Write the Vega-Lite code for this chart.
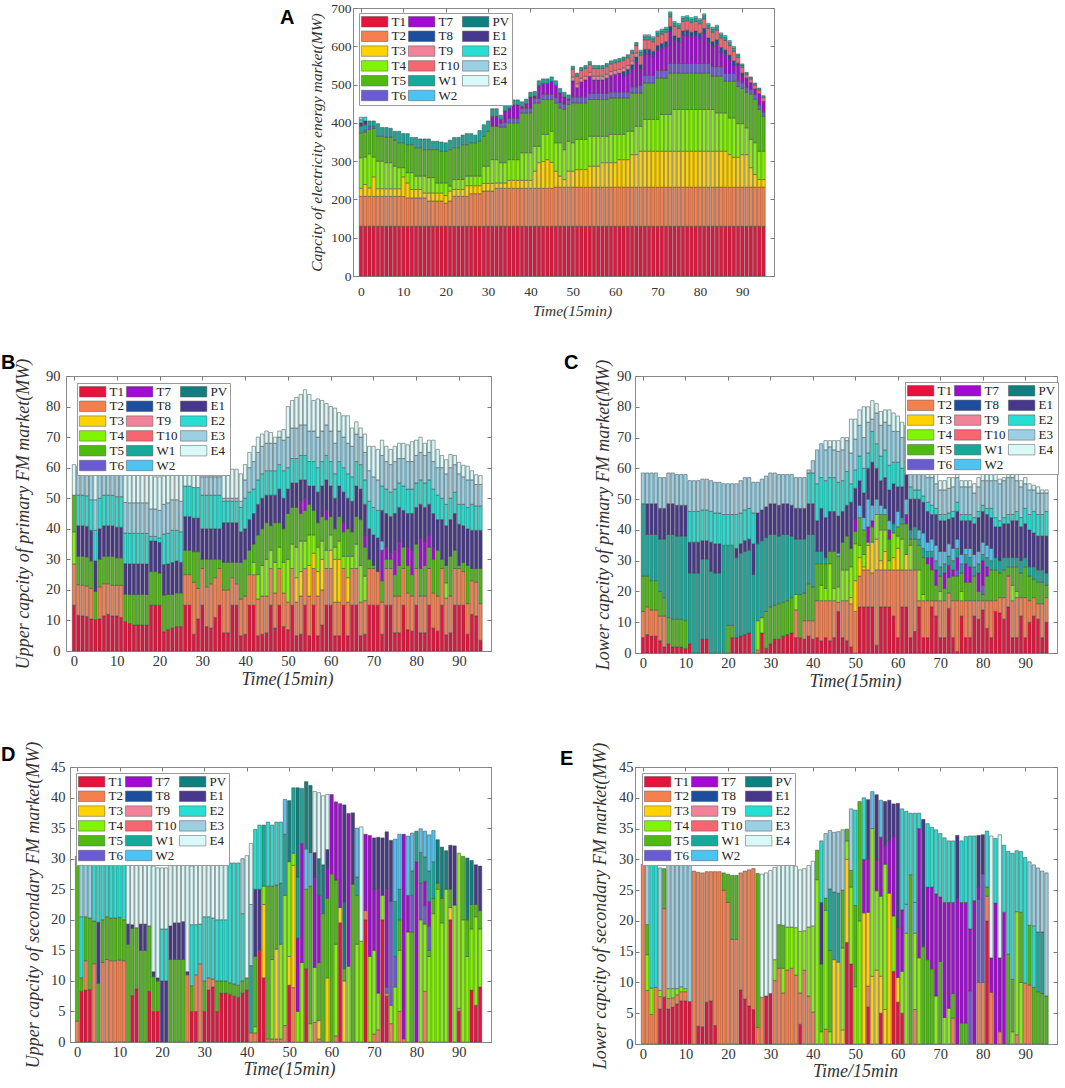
{
  "$schema": "https://vega.github.io/schema/vega-lite/v6.json",
  "background": "white",
  "padding": 0,
  "config": {
    "font": "Liberation Serif",
    "view": {"stroke": "#8a8a8a", "strokeWidth": 1},
    "axis": {"grid": false, "domainColor": "#8a8a8a", "tickColor": "#7a7a7a", "tickSize": -4, "labelFont": "Liberation Serif", "labelColor": "#333", "titleFont": "Liberation Serif", "titleFontStyle": "italic", "titleFontWeight": "normal", "titleColor": "#333", "labelFlush": false, "labelOverlap": false},
    "legend": {"columns": 3, "symbolType": "M-1.1,-0.95H3.7V0.95H-1.1Z", "symbolSize": 121, "symbolStrokeColor": "#555", "symbolStrokeWidth": 0.8, "symbolOpacity": 1, "labelFont": "Liberation Serif", "labelFontSize": 13, "labelColor": "#222", "rowPadding": 0.8, "columnPadding": 1, "labelOffset": 17.5, "padding": 2, "strokeColor": "#999", "fillColor": "white"},
    "bar": {"stroke": "#454545", "strokeWidth": 0.5},
    "title": {"font": "Liberation Sans", "fontSize": 20, "fontWeight": "bold", "anchor": "start", "frame": "group", "baseline": "alphabetic", "color": "#000", "offset": 0}
  },
  "datasets": {
    "series": [{"s":"T1","k":1},{"s":"T2","k":2},{"s":"T3","k":3},{"s":"T4","k":4},{"s":"T5","k":5},{"s":"T6","k":6},{"s":"T7","k":7},{"s":"T8","k":8},{"s":"T9","k":9},{"s":"T10","k":10},{"s":"W1","k":11},{"s":"W2","k":12},{"s":"PV","k":13},{"s":"E1","k":14},{"s":"E2","k":15},{"s":"E3","k":16},{"s":"E4","k":17}],
    "A": [
      {"t":0,"T1":130,"T2":78,"T3":21,"T4":80,"T5":65,"W1":18,"E1":8,"E2":8,"E3":7},
      {"t":1,"T1":130,"T2":78,"T3":31,"T4":72,"T5":65,"T6":5,"W1":14,"E1":10,"E2":10},
      {"t":2,"T1":130,"T2":78,"T3":22,"T4":89,"T5":64,"T6":8,"W1":14},
      {"t":3,"T1":130,"T2":78,"T3":51,"T4":52,"T5":74,"T6":6,"W1":14},
      {"t":4,"T1":130,"T2":78,"T3":20,"T4":72,"T5":65,"W1":33},
      {"t":5,"T1":130,"T2":78,"T3":20,"T4":72,"T5":65,"W1":23},
      {"t":6,"T1":130,"T2":78,"T3":20,"T4":68,"T5":67,"W1":25},
      {"t":7,"T1":130,"T2":78,"T3":20,"T4":68,"T5":67,"W1":23},
      {"t":8,"T1":130,"T2":78,"T3":20,"T4":59,"T5":68,"W1":23},
      {"t":9,"T1":130,"T2":78,"T3":20,"T4":55,"T5":65,"W1":30},
      {"t":10,"T1":130,"T2":78,"T3":51,"T4":24,"T5":65,"W1":24},
      {"t":11,"T1":130,"T2":74,"T3":39,"T4":27,"T5":73,"W1":29},
      {"t":12,"T1":130,"T2":74,"T3":22,"T4":44,"T5":73,"W1":19},
      {"t":13,"T1":130,"T2":74,"T3":22,"T4":35,"T5":74,"W1":27},
      {"t":14,"T1":130,"T2":74,"T3":22,"T4":35,"T5":74,"W1":23},
      {"t":15,"T1":130,"T2":74,"T3":13,"T4":44,"T5":69,"W1":28},
      {"t":16,"T1":130,"T2":66,"T3":21,"T4":40,"T5":73,"W1":28},
      {"t":17,"T1":130,"T2":66,"T3":21,"T4":40,"T5":73,"W1":22},
      {"t":18,"T1":130,"T2":66,"T3":21,"T4":26,"T5":87,"W1":22},
      {"t":19,"T1":130,"T2":66,"T3":21,"T4":26,"T5":83,"W1":24},
      {"t":20,"T1":130,"T2":60,"T3":20,"T4":33,"T5":83,"W1":22},
      {"t":21,"T1":130,"T2":66,"T3":26,"T4":13,"T5":95,"W1":25},
      {"t":22,"T1":130,"T2":78,"T3":18,"T4":26,"T5":83,"W1":27},
      {"t":23,"T1":130,"T2":78,"T3":18,"T4":26,"T5":83,"W1":27},
      {"t":24,"T1":130,"T2":78,"T3":18,"T4":26,"T5":91,"W1":25},
      {"t":25,"T1":130,"T2":78,"T3":28,"T4":25,"T5":82,"W1":29},
      {"t":26,"T1":130,"T2":85,"T3":21,"T4":25,"T5":87,"W1":24},
      {"t":27,"T1":130,"T2":85,"T3":21,"T4":25,"T5":87,"W1":20},
      {"t":28,"T1":130,"T2":85,"T3":21,"T4":25,"T5":91,"W1":28},
      {"t":29,"T1":130,"T2":92,"T3":20,"T4":45,"T5":78,"W1":30},
      {"t":30,"T1":130,"T2":92,"T3":20,"T4":45,"T5":91,"W1":27},
      {"t":31,"T1":130,"T2":92,"T3":20,"T4":62,"T5":87,"T7":26,"W1":20},
      {"t":32,"T1":130,"T2":99,"T3":14,"T4":61,"T5":87,"T7":26,"W1":20},
      {"t":33,"T1":130,"T2":99,"T3":14,"T4":53,"T5":93,"T6":10,"T7":10,"W1":11},
      {"t":34,"T1":130,"T2":99,"T3":14,"T4":53,"T5":93,"T6":12,"T7":30,"W1":14},
      {"t":35,"T1":130,"T2":99,"T3":21,"T4":54,"T5":96,"T6":12,"T7":26,"W1":12},
      {"t":36,"T1":130,"T2":99,"T3":21,"T4":54,"T5":96,"T6":12,"T7":35,"W1":13},
      {"t":37,"T1":130,"T2":99,"T3":21,"T4":54,"T5":96,"T6":12,"T7":35,"W1":13},
      {"t":38,"T1":130,"T2":99,"T3":21,"T4":72,"T5":104,"T6":12,"T7":5,"W1":12},
      {"t":39,"T1":130,"T2":99,"T3":21,"T4":72,"T5":104,"T6":12,"T7":12,"W1":12},
      {"t":40,"T1":130,"T2":99,"T3":21,"T4":72,"T5":104,"T6":12,"T7":30,"W1":12},
      {"t":41,"T1":130,"T2":99,"T3":45,"T4":65,"T5":113,"T6":12,"T7":6,"W1":12},
      {"t":42,"T1":130,"T2":99,"T3":67,"T4":43,"T5":113,"T6":12,"T7":34,"W1":12},
      {"t":43,"T1":130,"T2":99,"T3":70,"T4":71,"T5":91,"T6":14,"T7":28,"W1":12},
      {"t":44,"T1":130,"T2":99,"T3":75,"T4":66,"T5":91,"T6":14,"T7":28,"W1":12},
      {"t":45,"T1":130,"T2":99,"T3":68,"T4":81,"T5":83,"T6":14,"T7":33,"W1":12},
      {"t":46,"T1":130,"T2":102,"T3":42,"T4":74,"T5":104,"T6":14,"T7":32,"W1":12},
      {"t":47,"T1":130,"T2":102,"T3":29,"T4":87,"T5":91,"T6":14,"T7":25,"W1":12},
      {"t":48,"T1":130,"T2":102,"T3":20,"T4":78,"T5":105,"T6":14,"T7":19,"W1":12},
      {"t":49,"T1":130,"T2":102,"T3":42,"T4":78,"T5":96,"T6":12,"T7":3,"W1":10},
      {"t":50,"T1":130,"T2":102,"T3":42,"T4":74,"T5":104,"T6":16,"T7":42,"T9":10,"T10":20,"W1":8},
      {"t":51,"T1":130,"T2":102,"T3":46,"T4":79,"T5":95,"T6":16,"T7":24,"T9":10,"T10":20,"W1":8},
      {"t":52,"T1":130,"T2":102,"T3":46,"T4":79,"T5":95,"T6":16,"T7":39,"T9":10,"T10":20,"W1":8},
      {"t":53,"T1":130,"T2":102,"T3":46,"T4":79,"T5":95,"T6":16,"T7":44,"T9":10,"T10":20,"W1":8},
      {"t":54,"T1":130,"T2":102,"T3":55,"T4":78,"T5":96,"T6":16,"T7":45,"T9":10,"T10":20,"W1":8},
      {"t":55,"T1":130,"T2":102,"T3":55,"T4":78,"T5":96,"T6":16,"T7":35,"T9":10,"T10":20,"W1":8},
      {"t":56,"T1":130,"T2":102,"T3":55,"T4":78,"T5":96,"T6":16,"T7":35,"T9":10,"T10":20,"W1":8},
      {"t":57,"T1":130,"T2":102,"T3":64,"T4":69,"T5":96,"T6":16,"T7":35,"T9":10,"T10":20,"W1":8},
      {"t":58,"T1":130,"T2":102,"T3":64,"T4":69,"T5":96,"T6":16,"T7":40,"T9":10,"T10":20,"W1":8},
      {"t":59,"T1":130,"T2":102,"T3":64,"T4":74,"T5":95,"T6":16,"T7":43,"T9":10,"T10":20,"W1":8},
      {"t":60,"T1":130,"T2":102,"T3":64,"T4":74,"T5":95,"T6":16,"T7":46,"T9":10,"T10":20,"W1":8},
      {"t":61,"T1":130,"T2":102,"T3":72,"T4":66,"T5":95,"T6":16,"T7":49,"T9":10,"T10":20,"W1":8},
      {"t":62,"T1":130,"T2":102,"T3":72,"T4":66,"T5":95,"T6":16,"T7":41,"T8":12,"T9":10,"T10":20,"W1":8},
      {"t":63,"T1":130,"T2":102,"T3":72,"T4":74,"T5":87,"T6":16,"T7":47,"T8":12,"T9":10,"T10":20,"W1":8},
      {"t":64,"T1":130,"T2":102,"T3":85,"T4":61,"T5":100,"T6":16,"T7":46,"T8":12,"T9":10,"T10":20,"W1":8},
      {"t":65,"T1":130,"T2":102,"T3":85,"T4":74,"T5":87,"T6":16,"T7":66,"T8":12,"T9":10,"T10":20,"W1":8},
      {"t":66,"T1":130,"T2":102,"T3":94,"T4":65,"T5":87,"T6":20,"T7":42,"T8":12,"T10":25,"W1":8,"E2":5},
      {"t":67,"T1":130,"T2":102,"T3":94,"T4":83,"T5":95,"T6":20,"T7":56,"T8":12,"T10":25,"W1":8,"E2":5},
      {"t":68,"T1":130,"T2":102,"T3":94,"T4":83,"T5":95,"T6":20,"T7":56,"T8":12,"T10":25,"W1":8,"E2":5},
      {"t":69,"T1":130,"T2":102,"T3":94,"T4":83,"T5":95,"T6":20,"T7":51,"T8":12,"T10":25,"W1":8,"E2":5},
      {"t":70,"T1":130,"T2":102,"T3":94,"T4":83,"T5":108,"T6":20,"T7":53,"T8":12,"T10":25,"W1":8,"E2":5},
      {"t":71,"T1":130,"T2":102,"T3":94,"T4":96,"T5":95,"T6":20,"T7":58,"T8":12,"T10":25,"W1":8,"E2":5},
      {"t":72,"T1":130,"T2":102,"T3":94,"T4":96,"T5":95,"T6":20,"T7":63,"T8":12,"T10":25,"W1":8,"E2":5},
      {"t":73,"T1":130,"T2":102,"T3":94,"T4":96,"T5":108,"T6":25,"T7":85,"T8":12,"T10":25,"W1":8,"E2":5},
      {"t":74,"T1":130,"T2":102,"T3":94,"T4":109,"T5":95,"T6":25,"T7":60,"T8":12,"T10":25,"W1":8,"E2":5},
      {"t":75,"T1":130,"T2":102,"T3":94,"T4":109,"T5":95,"T6":25,"T7":55,"T8":12,"T10":25,"W1":8,"E2":5},
      {"t":76,"T1":130,"T2":102,"T3":94,"T4":109,"T5":95,"T6":25,"T7":73,"T8":12,"T10":25,"W1":8,"E2":5},
      {"t":77,"T1":130,"T2":102,"T3":94,"T4":109,"T5":95,"T6":25,"T7":75,"T8":12,"T10":25,"W1":8,"E2":5},
      {"t":78,"T1":130,"T2":102,"T3":94,"T4":109,"T5":95,"T6":25,"T7":70,"T8":12,"T10":25,"W1":8,"E2":5},
      {"t":79,"T1":130,"T2":102,"T3":94,"T4":109,"T5":95,"T6":25,"T7":73,"T8":12,"T10":25,"W1":8,"E2":5},
      {"t":80,"T1":130,"T2":102,"T3":94,"T4":109,"T5":95,"T6":25,"T7":67,"T8":12,"T10":25,"W1":8,"E2":5},
      {"t":81,"T1":130,"T2":102,"T3":94,"T4":109,"T5":95,"T6":25,"T7":80,"T8":12,"T10":25,"W1":8,"E2":5},
      {"t":82,"T1":130,"T2":102,"T3":94,"T4":109,"T5":95,"T6":25,"T7":55,"T8":12,"T10":25,"W1":8,"E2":5},
      {"t":83,"T1":130,"T2":102,"T3":94,"T4":109,"T5":87,"T6":25,"T7":53,"T8":12,"T10":25,"W1":8,"E2":5},
      {"t":84,"T1":130,"T2":102,"T3":94,"T4":100,"T5":96,"T6":25,"T7":58,"T8":12,"T10":25,"W1":8,"E2":5},
      {"t":85,"T1":130,"T2":102,"T3":94,"T4":100,"T5":96,"T6":25,"T7":38,"T8":12,"T10":25,"W1":8,"E2":5},
      {"t":86,"T1":130,"T2":102,"T3":94,"T4":100,"T5":83,"T6":20,"T7":49,"T8":12,"T10":25,"W1":8,"E2":5},
      {"t":87,"T1":130,"T2":102,"T3":85,"T4":96,"T5":96,"T6":20,"T7":36,"T8":12,"T10":25,"W1":8,"E2":5},
      {"t":88,"T1":130,"T2":102,"T3":78,"T4":103,"T5":96,"T6":20,"T7":21,"T8":12,"T10":25,"W1":8,"E2":5},
      {"t":89,"T1":130,"T2":102,"T3":78,"T4":88,"T5":97,"T6":15,"T7":41,"T8":5,"T10":15,"W1":6,"E2":3},
      {"t":90,"T1":130,"T2":102,"T3":85,"T4":81,"T5":92,"T6":15,"T7":20,"T8":5,"T10":15,"W1":6,"E2":3},
      {"t":91,"T1":130,"T2":102,"T3":85,"T4":70,"T5":93,"T6":12,"T7":25,"T10":10,"W1":5},
      {"t":92,"T1":130,"T2":102,"T3":51,"T4":74,"T5":118,"T6":12,"T7":18,"T10":10,"W1":5},
      {"t":93,"T1":130,"T2":102,"T3":33,"T4":83,"T5":114,"T6":12,"T7":15,"T10":10,"W1":5},
      {"t":94,"T1":130,"T2":102,"T3":20,"T4":74,"T5":109,"T6":12,"T7":29,"T10":10,"W1":5},
      {"t":95,"T1":130,"T2":102,"T3":20,"T4":74,"T5":91,"T6":12,"T7":27,"T10":10,"W1":5}
    ],
    "B": [
      {"t":0,"T1":15,"T2":13.5,"T4":10.5,"T5":12,"E4":10},
      {"t":1,"T1":11.7,"T2":10,"T5":9.3,"E1":10,"E2":10,"E3":8,"E4":1.5},
      {"t":2,"T1":11.5,"T2":10,"T5":9.5,"E1":10,"E2":10,"E3":8,"E4":1},
      {"t":3,"T1":11.3,"T2":10,"T5":9.5,"E1":10,"E2":10,"E3":8,"E4":1.2},
      {"t":4,"T1":10.5,"T2":10,"T5":9,"E1":10,"E2":10,"E3":8,"E4":2},
      {"t":5,"T1":10.3,"T5":9.2,"E1":10,"E2":10,"E3":10,"E4":10},
      {"t":6,"T1":10.5,"T2":10.5,"T5":9,"E1":10,"E2":10,"E3":8,"E4":1.5},
      {"t":7,"T1":11.5,"T2":10.5,"T5":9,"E1":10,"E2":10,"E3":8,"E4":1.5},
      {"t":8,"T1":12,"T2":10,"T5":9,"E1":10,"E2":10,"E3":8,"E4":1.5},
      {"t":9,"T1":11.5,"T2":10,"T5":9.5,"E1":10,"E2":10,"E3":8,"E4":1},
      {"t":10,"T1":11.5,"T2":10,"T5":9,"E1":10,"E2":10,"E3":8,"E4":1.5},
      {"t":11,"T1":11,"T2":10.5,"T5":9,"E1":10,"E2":10,"E3":8,"E4":1},
      {"t":12,"T1":9.6,"T5":9,"E1":10,"E2":10,"E3":10,"E4":10},
      {"t":13,"T1":9,"T5":9.5,"E1":10,"E2":10,"E3":10,"E4":9.5},
      {"t":14,"T1":8.5,"T5":10,"E1":10,"E2":10,"E3":10,"E4":9.5},
      {"t":15,"T1":8.5,"T5":10,"E1":10,"E2":10,"E3":10,"E4":10},
      {"t":16,"T1":8.5,"T5":10,"E1":10,"E2":10,"E3":10,"E4":10},
      {"t":17,"T1":8.5,"T5":10,"E1":10,"E2":10,"E3":10,"E4":9.5},
      {"t":18,"T1":15,"T5":11,"E1":10,"E2":1.5,"E3":9,"E4":11.5},
      {"t":19,"T1":15,"T5":11,"E1":10,"E2":1.5,"E3":9,"E4":10.5},
      {"t":20,"T1":15,"T5":10.5,"E1":10,"E2":1.5,"E3":9,"E4":11},
      {"t":21,"T1":6.3,"T5":12,"E1":10,"E2":10,"E3":9.7,"E4":9.3},
      {"t":22,"T1":7,"T5":11.5,"E1":10,"E2":10,"E3":10,"E4":9.5},
      {"t":23,"T1":7.5,"T5":11,"E1":10.5,"E2":10.5,"E3":10,"E4":9},
      {"t":24,"T1":8,"T5":11,"E1":10.5,"E2":10,"E3":10,"E4":9.5},
      {"t":25,"T1":8,"T5":11,"E1":10,"E2":10,"E3":10,"E4":10},
      {"t":26,"T1":15,"T2":10,"T5":8,"E1":11,"E2":10,"E4":3.5},
      {"t":27,"T1":15,"T2":10,"T5":8,"E1":11,"E2":10,"E4":3.5},
      {"t":28,"T1":5.5,"T2":17,"T5":10,"E1":11,"E2":10,"E4":4.5},
      {"t":29,"T1":10.5,"T2":10,"T5":12,"E1":11,"E2":10,"E4":5.5},
      {"t":30,"T1":15,"T2":12,"T5":3,"E1":10,"E2":11,"E3":6,"E4":3},
      {"t":31,"T1":8,"T2":13,"T5":9,"E1":10,"E2":11,"E3":6,"E4":3},
      {"t":32,"T1":7.5,"T2":14.5,"T5":8,"E1":10,"E2":11,"E3":6,"E4":3},
      {"t":33,"T1":11,"T2":13,"T5":6,"E1":10,"E2":11,"E3":6,"E4":3},
      {"t":34,"T1":15,"T2":12,"T5":3,"E1":10,"E2":11,"E3":6,"E4":3},
      {"t":35,"T1":6,"T2":14,"T5":9,"E1":13,"E2":7,"E3":1,"E4":10},
      {"t":36,"T1":6,"T2":14,"T5":9,"E1":13,"E2":7,"E3":1,"E4":9.5},
      {"t":37,"T1":15,"T2":9,"T5":5,"E1":13,"E2":7,"E3":1,"E4":9.5},
      {"t":38,"T1":15,"T2":7,"T5":7,"E1":13,"E2":7,"E3":1,"E4":9.5},
      {"t":39,"T1":5,"T2":12,"T5":12,"E1":10,"E2":8,"E3":2,"E4":9},
      {"t":40,"T1":5.5,"T2":12.5,"T5":12,"E1":10,"E2":10,"E3":6,"E4":5},
      {"t":41,"T1":15,"T2":10,"T5":8,"E1":10,"E2":9,"E3":8,"E4":5},
      {"t":42,"T1":15,"T2":10,"T4":4,"T5":6,"E1":10,"E2":8,"E3":9,"E4":5},
      {"t":43,"T1":5,"T2":12,"T4":8,"T5":13,"E1":10,"E2":8,"E3":9,"E4":5},
      {"t":44,"T1":5.5,"T2":12.5,"T4":10,"T5":12,"E1":10,"E2":8,"E3":9,"E4":4},
      {"t":45,"T1":6,"T2":12,"T4":12,"T5":12,"E1":9,"E2":8,"E3":9,"E4":4},
      {"t":46,"T1":15,"T2":12,"T4":6,"T5":8,"E1":10,"E2":8,"E3":9,"E4":3.5},
      {"t":47,"T1":7.5,"T2":11.5,"T4":10,"T5":13,"E1":9,"E2":8,"E3":9,"E4":2},
      {"t":48,"T1":15,"T2":12,"T4":7,"T5":8,"E1":11,"E2":8,"E3":9,"E4":2},
      {"t":49,"T1":8,"T2":11,"T4":10,"T5":11,"E1":10,"E2":9,"E3":10,"E4":3.5},
      {"t":50,"T1":7,"T2":9,"T4":14,"T5":15,"E1":8,"E2":7,"E3":10,"E4":10},
      {"t":51,"T1":15,"T2":12,"T4":8,"T5":12,"E1":8,"E2":8,"E3":10,"E4":9},
      {"t":52,"T1":5,"T2":11,"T3":8,"T4":10,"T5":13,"E1":8,"E2":8,"E3":10,"E4":10},
      {"t":53,"T1":5.5,"T2":12.5,"T3":8,"T4":10,"T5":9,"T7":4,"E1":7,"E2":8,"E3":10,"E4":10},
      {"t":54,"T1":15,"T2":12,"T4":9,"T5":10,"T7":4,"E1":6,"E2":8,"E3":10,"E4":11.5},
      {"t":55,"T1":5,"T2":13,"T3":10,"T4":10,"T5":10,"E1":6,"E2":8,"E3":10,"E4":12},
      {"t":56,"T1":15,"T2":12,"T3":5,"T4":6,"T5":8,"E1":8,"E2":8,"E3":10,"E4":10},
      {"t":57,"T1":5,"T2":13,"T3":8,"T4":8,"T5":8,"E1":10,"E2":8,"E3":10,"E4":12.5},
      {"t":58,"T1":8.5,"T2":11.5,"T3":10,"T4":6,"T5":8,"E1":10,"E2":8,"E3":10,"E4":10},
      {"t":59,"T1":15,"T2":12,"T4":6,"T5":10,"T7":3,"E1":10,"E2":8,"E3":10,"E4":7},
      {"t":60,"T1":15,"T2":12,"T3":6,"T4":5,"T5":6,"E1":10,"E2":8,"E3":10,"E4":8},
      {"t":61,"T1":5,"T2":11,"T3":14,"T4":4,"T5":6,"E1":10,"E2":8,"E3":10,"E4":11.5},
      {"t":62,"T1":5,"T2":11,"T3":14,"T4":6,"T5":8,"E1":10,"E2":8,"E3":10,"E4":6},
      {"t":63,"T1":15,"T2":12,"T4":4,"T5":8,"T7":3,"E1":10,"E2":8,"E3":10,"E4":7},
      {"t":64,"T1":5,"T2":11,"T3":8,"T4":7,"T5":9,"E1":10,"E2":8,"E3":10,"E4":9},
      {"t":65,"T1":15,"T2":12,"T4":4,"T5":8,"E1":10,"E2":8,"E3":10,"E4":6},
      {"t":66,"T1":15,"T2":12,"T4":8,"T5":9,"E1":10,"E2":8,"E3":9,"E4":4},
      {"t":67,"T1":5,"T2":11,"T4":12,"T5":15,"E1":10,"E2":8,"E3":9,"E4":3},
      {"t":68,"T1":5.5,"T2":11,"T4":8,"T5":9.5,"T7":4,"E1":10,"E2":8,"E3":9,"E4":6},
      {"t":69,"T1":15,"T2":12,"T5":3,"E1":10,"E2":9,"E3":10,"E4":8},
      {"t":70,"T1":15,"T2":12,"T5":1,"E1":10,"E2":9,"E3":10,"E4":10},
      {"t":71,"T1":15,"T2":11,"E1":11,"E2":9,"E3":10,"E4":10},
      {"t":72,"T1":5.5,"T2":10.5,"T5":7,"T7":10,"W2":3,"E1":10,"E2":8,"E3":10,"E4":5},
      {"t":73,"T1":15,"T2":12,"T5":3,"T7":4,"E1":11,"E2":8,"E3":9,"E4":5},
      {"t":74,"T1":15,"T2":12,"T5":3,"T7":2,"E1":12,"E2":8,"E3":9,"E4":5},
      {"t":75,"T1":6,"T2":12,"T5":7,"T7":8,"E1":12,"E2":8,"E3":9,"E4":5},
      {"t":76,"T1":6,"T2":12,"T5":10,"T7":8,"E1":11,"E2":8,"E3":8,"E4":5},
      {"t":77,"T1":15,"T2":12,"T5":7,"E1":12,"E2":8,"E3":9,"E4":5},
      {"t":78,"T1":7,"T2":12,"T5":9,"T7":6,"E1":11,"E2":8,"E3":9,"E4":5.5},
      {"t":79,"T1":6.5,"T2":11.5,"T5":7,"T7":8,"E1":12,"E2":8,"E3":9,"E4":6.5},
      {"t":80,"T1":15,"T2":12,"T5":8,"E1":12,"E2":8,"E3":9,"E4":5},
      {"t":81,"T1":6,"T2":12,"T5":9,"T7":10,"E1":11,"E2":8,"E3":9,"E4":5},
      {"t":82,"T1":6,"T2":12,"T5":10,"T7":8,"E1":11,"E2":8,"E3":9,"E4":4},
      {"t":83,"T1":15,"T2":12,"T5":7,"T7":4,"E1":10,"E2":8,"E3":9,"E4":4},
      {"t":84,"T1":7.5,"T2":11.5,"T5":11,"T7":4,"E1":11,"E2":8,"E3":9,"E4":7},
      {"t":85,"T1":6.5,"T2":11.5,"T5":15,"E1":10,"E2":8,"E3":9,"E4":6},
      {"t":86,"T1":15,"T2":12,"T5":3,"E1":13,"E2":7,"E3":10,"E4":4},
      {"t":87,"T1":5.3,"T2":12,"T4":5,"T5":5.7,"E1":13,"E2":7,"E3":10,"E4":4.6},
      {"t":88,"T1":6,"T2":12,"T5":13,"E1":12,"E2":7,"E3":10,"E4":4.3},
      {"t":89,"T1":15,"T2":12,"T5":6,"E1":12,"E2":7,"E3":9,"E4":3},
      {"t":90,"T1":15,"T2":12,"T5":1,"E1":13.5,"E2":6.5,"E3":10,"E4":3.8},
      {"t":91,"T1":15,"T2":11,"T5":3,"E1":12,"E2":7,"E3":9,"E4":3.8},
      {"t":92,"T1":5.5,"T2":10,"T5":12.5,"E1":12,"E2":7,"E3":9,"E4":4.5},
      {"t":93,"T1":12,"T2":11,"T5":4,"E1":12.5,"E2":8.5,"E3":8,"E4":3},
      {"t":94,"T1":11.5,"T2":11,"T5":4.5,"E1":12.5,"E2":8,"E3":7,"E4":3.2},
      {"t":95,"T1":3.5,"T2":12,"T5":11.5,"E1":12.5,"E2":8,"E3":7,"E4":2.9}
    ],
    "C": [
      {"t":0,"T1":5,"T2":8.5,"T5":11.5,"W1":23.5,"E3":10},
      {"t":1,"T1":6,"T2":9,"T5":10,"W1":13.5,"E1":10,"E3":10},
      {"t":2,"T1":5.5,"T2":8.5,"T5":9.5,"W1":15,"E1":10,"E3":10},
      {"t":3,"T1":5.5,"T2":8.5,"T5":9.5,"W1":15,"E1":10,"E3":10},
      {"t":4,"T1":4,"T2":8,"T5":8,"W1":17,"E1":10,"E3":10},
      {"t":5,"T1":2,"T2":10,"T5":6,"W1":19,"E1":10,"E3":10},
      {"t":6,"T1":3,"T5":8.5,"W1":27,"E1":10,"E3":10},
      {"t":7,"T1":2,"T5":9,"W1":27.5,"E1":10,"E3":10},
      {"t":8,"T1":2,"T5":9,"W1":27,"E1":10,"E3":10},
      {"t":9,"T1":2,"T5":9,"W1":27,"E1":10,"E3":10},
      {"t":10,"T1":1.5,"T5":9,"W1":27.5,"E1":10,"E3":10},
      {"t":11,"T1":3,"W1":23,"E1":10,"E2":10,"E3":10},
      {"t":12,"W1":26,"E1":10,"E2":10,"E3":10},
      {"t":13,"W1":26,"E1":10,"E2":10,"E3":10},
      {"t":14,"T1":4.5,"W1":26,"E1":6,"E2":10,"E3":10},
      {"t":15,"T1":4.5,"W1":26,"E1":6,"E2":10,"E3":10},
      {"t":16,"W1":26.5,"E1":9.5,"E2":10,"E3":10},
      {"t":17,"W1":26,"E1":9.5,"E2":10,"E3":10},
      {"t":18,"W1":26,"E1":9.5,"E2":10,"E3":10},
      {"t":19,"W1":35,"E2":10,"E3":10},
      {"t":20,"T5":9,"W1":26,"E2":10,"E3":10},
      {"t":21,"T1":5,"T5":4,"W1":26,"E2":10,"E3":10},
      {"t":22,"T1":5,"W1":26,"E1":3,"E2":11,"E3":10},
      {"t":23,"T1":5.5,"W1":27,"E1":3,"E2":10,"E3":10.5},
      {"t":24,"T1":6,"W1":27,"E1":3.5,"E2":10,"E3":10.5},
      {"t":25,"T1":6.5,"W1":27,"E1":3.5,"E2":10,"E3":10},
      {"t":26,"W1":25.5,"E1":10,"E2":10,"E3":10},
      {"t":27,"T2":1,"T4":9.5,"W1":25,"E1":10,"E3":10},
      {"t":28,"T1":6.5,"T4":5,"W1":25,"E1":10,"E3":10},
      {"t":29,"T1":1.5,"T5":12,"W1":24,"E1":10,"E3":10},
      {"t":30,"T1":3,"T5":12,"W1":23.5,"E1":10,"E3":10},
      {"t":31,"T1":4.5,"T5":11,"W1":23,"E1":10,"E3":10},
      {"t":32,"T1":4.5,"T5":11.5,"W1":22,"E1":10,"E3":10},
      {"t":33,"T1":5.5,"T5":11,"W1":22,"E1":10,"E3":9.5},
      {"t":34,"T1":6,"T5":11,"W1":21.5,"E1":10,"E3":9.5},
      {"t":35,"T1":6.5,"T5":11.5,"W1":20,"E1":10,"E3":10},
      {"t":36,"T1":5,"T2":9,"T4":5,"W1":18,"E1":10,"E3":10},
      {"t":37,"T1":5,"T5":14,"W1":18,"E1":10,"E3":10},
      {"t":38,"T1":4.5,"T2":6,"T5":9,"W1":17.5,"E1":10,"E3":10},
      {"t":39,"T1":5.5,"T2":5,"T5":12,"W1":16,"E1":10,"E2":10,"E3":1},
      {"t":40,"T1":4.5,"T2":6,"T5":11,"W1":17,"E1":10,"E2":10,"E3":4},
      {"t":41,"T1":5,"T2":12,"T5":12,"W1":4,"E1":10,"E2":12,"E3":11},
      {"t":42,"T1":4,"T2":13,"T4":5,"T5":7,"W1":4,"E1":14,"E2":10,"E3":11},
      {"t":43,"T1":5,"T2":12,"T4":4,"T5":8,"W1":2,"E1":13,"E2":12,"E3":10,"E4":3},
      {"t":44,"T1":4,"T2":13,"T4":12,"T5":4,"E1":13,"E2":11,"E3":10,"E4":2},
      {"t":45,"T1":5,"T2":12,"T4":4,"T5":12,"E1":13,"E2":11,"E3":9,"E4":3},
      {"t":46,"T1":13.5,"T2":3,"T4":5,"T5":10,"W2":1,"E1":12,"E2":11,"E3":10,"E4":3.5},
      {"t":47,"T1":5,"T2":12,"T4":10,"T5":9,"E1":10,"E2":10,"E3":10,"E4":4},
      {"t":48,"T1":4,"T2":13,"T4":10,"T5":11,"E1":10,"E2":11,"E3":10,"E4":1},
      {"t":49,"T1":2,"T2":14,"T3":2,"T4":10,"T5":6,"E1":15,"E2":6,"E3":10,"E4":11},
      {"t":50,"T2":13.5,"T3":10,"T4":12,"T5":4,"T7":4,"E1":10,"E2":6,"E3":10,"E4":6.5},
      {"t":51,"T1":15,"T2":10,"T3":6,"T4":4,"T5":9,"W2":4,"E1":8,"E2":8,"E3":10,"E4":5},
      {"t":52,"T1":15,"T2":12,"T3":1,"T4":4,"T5":8,"W2":4,"E1":8,"E2":8,"E3":10,"E4":10},
      {"t":53,"T1":15,"T2":12,"T3":8,"T4":1,"T7":5,"W2":9,"E1":10,"E2":5,"E3":10,"E4":5},
      {"t":54,"T1":15,"T2":11,"T3":10,"T5":5,"T7":2,"W2":5,"E1":14,"E2":10,"E3":4,"E4":6},
      {"t":55,"T1":2.5,"T2":24.5,"T3":10,"T4":8,"W2":5,"E1":10,"E2":8,"E3":10,"E4":3},
      {"t":56,"T1":15,"T2":12,"T3":3,"T4":10,"T5":5,"W2":3,"E1":8,"E2":8,"E3":10,"E4":4.5},
      {"t":57,"T1":15,"T2":12,"T3":6,"T4":7,"T5":5,"W2":2,"E1":10,"E2":9,"E3":9,"E4":4},
      {"t":58,"T1":15,"T2":12,"T4":3,"T5":7,"T7":3,"W2":3,"E1":10,"E2":8,"E3":13,"E4":5},
      {"t":59,"T1":12,"T2":15,"T3":4,"T4":8,"W1":3,"E1":13,"E2":7,"E3":10,"E4":6},
      {"t":60,"T1":5,"T2":22,"T3":7,"T4":4,"T5":3,"W2":5,"E1":8,"E2":8,"E3":10,"E4":5},
      {"t":61,"T1":15,"T2":12,"T4":10,"T5":5,"W1":2,"E1":10,"E2":6,"E3":10,"E4":5},
      {"t":62,"T1":15,"T2":12,"T3":5,"T5":10,"T7":3,"W2":5,"E1":8,"E2":4,"E3":8,"E4":4},
      {"t":63,"T1":5,"T2":22,"T4":8,"T5":2,"W1":3,"E1":10,"E2":4,"E3":10,"E4":6},
      {"t":64,"T1":7,"T2":20,"T5":10,"W1":4,"E1":9,"E2":3,"E3":8,"E4":6},
      {"t":65,"T1":15,"T2":2,"T4":10,"T5":8,"W1":2,"W2":3,"E1":10,"E2":3,"E3":8,"E4":4},
      {"t":66,"T1":5,"T2":12,"T4":2,"T5":12,"W1":3,"W2":5,"E1":10,"E2":2,"E3":8,"E4":4},
      {"t":67,"T1":5,"T2":12,"T5":12,"T7":2,"W1":2,"W2":3,"E1":10,"E2":3,"E3":8,"E4":3},
      {"t":68,"T1":15,"T2":2,"T5":10,"T7":4,"W1":2,"W2":4,"E1":8,"E2":3,"E3":9,"E4":3},
      {"t":69,"T1":12,"T2":5,"T5":5,"T7":5,"W1":3,"W2":5,"E1":10,"E2":2,"E3":8,"E4":4},
      {"t":70,"T1":5,"T2":12,"T4":3,"T5":5,"W1":3,"W2":5,"E1":10,"E2":2,"E3":8,"E4":3},
      {"t":71,"T1":5,"T2":12,"T5":4,"T7":5,"W1":3,"W2":4,"E1":10,"E2":2,"E3":8,"E4":3},
      {"t":72,"T1":14.5,"T2":5,"T5":5,"T7":4,"W1":3,"W2":4,"E1":8,"E2":2,"E3":8,"E4":3.5},
      {"t":73,"T1":5,"T2":12,"T5":8,"T7":2,"W1":3,"W2":4,"E1":10,"E2":2,"E3":8,"E4":3},
      {"t":74,"T1":0.5,"T2":16.5,"T5":8,"T6":2,"T7":4,"W1":3,"W2":3,"E1":9,"E2":3,"E3":8,"E4":2},
      {"t":75,"T1":12,"T2":5,"T4":3,"T5":6,"W1":3,"W2":3,"E1":11,"E2":2,"E3":9,"E4":2},
      {"t":76,"T1":5,"T2":12,"T5":6,"T7":6,"W1":3,"W2":2,"E1":9,"E2":2,"E3":9,"E4":2},
      {"t":77,"T1":5,"T2":12,"T5":6,"T7":5,"W1":3,"W2":3,"E1":9,"E2":2,"E3":9,"E4":2},
      {"t":78,"T1":12,"T2":5,"T5":8,"W1":3,"W2":4,"E1":10,"E2":2,"E3":8,"E4":3},
      {"t":79,"T1":11,"T2":6,"T5":3,"T7":6,"W1":3,"W2":4,"E1":11,"E2":2,"E3":8,"E4":3},
      {"t":80,"T1":14,"T2":3,"T5":2,"T6":3,"T7":8,"W1":2,"W2":4,"E1":10,"E2":2,"E3":8,"E4":2},
      {"t":81,"T1":8,"T2":9,"T5":8,"T7":3,"W1":3,"W2":4,"E1":10,"E2":2,"E3":9,"E4":2},
      {"t":82,"T1":5,"T2":12,"T5":10,"W1":3,"W2":4,"E1":10,"E2":3,"E3":9,"E4":2},
      {"t":83,"T1":13.5,"T2":3.5,"T5":10,"W1":4,"E1":10,"E2":3,"E3":12,"E4":2.5},
      {"t":84,"T1":13,"T2":5,"T5":8,"W1":4,"E1":11,"E2":2,"E3":12,"E4":1.5},
      {"t":85,"T1":11,"T2":7,"T5":9,"W1":4,"E1":11,"E2":2,"E3":12,"E4":1},
      {"t":86,"T1":15,"T2":10,"T5":3,"W1":3,"E1":11,"E2":3,"E3":12,"E4":1},
      {"t":87,"T1":5,"T2":12,"T4":5,"T5":6,"W1":3,"E1":12,"E2":2,"E3":12,"E4":1},
      {"t":88,"T1":5,"T2":13,"T4":2,"T5":8,"W1":3,"E1":12,"E2":3,"E3":10,"E4":2},
      {"t":89,"T1":12,"T2":6,"T5":8,"W1":4,"E1":11,"E2":3,"E3":10,"E4":2},
      {"t":90,"T1":5,"T2":13,"T5":10,"W1":3,"E1":11,"E2":5,"E3":8,"E4":2},
      {"t":91,"T1":10,"T2":7,"T5":8,"W1":3,"E1":12,"E2":5,"E3":8,"E4":2},
      {"t":92,"T1":12,"T2":6,"T5":6,"W1":4,"E1":11,"E2":7,"E3":7,"E4":1.5},
      {"t":93,"T1":11,"T2":5,"T5":7,"W1":4,"E1":11,"E2":7,"E3":7,"E4":2},
      {"t":94,"T1":5,"T2":11,"T5":7,"W1":4,"E1":11,"E2":7,"E3":7,"E4":1},
      {"t":95,"T1":10,"T2":8,"T5":4,"W1":4,"E1":12,"E2":8,"E3":6,"E4":1}
    ],
    "D": [
      {"t":0,"T2":3.4,"T5":27},
      {"t":1,"T1":8.3,"T5":2.2,"E2":10,"E3":9.5},
      {"t":2,"T1":8.5,"T2":4.8,"T5":7.2,"E3":9.5},
      {"t":3,"T1":8.6,"T5":11.7,"E3":9.5},
      {"t":4,"T2":12.8,"T5":7,"E2":10},
      {"t":5,"T5":9.6,"E1":10,"E2":10},
      {"t":6,"T2":13,"T5":7,"E2":10},
      {"t":7,"T2":13.5,"T5":7,"E2":9.5},
      {"t":8,"T2":13.3,"T5":7,"E2":9.7},
      {"t":9,"T2":13.3,"T5":7,"E2":9.7},
      {"t":10,"T2":13.4,"T5":7,"E2":9.6},
      {"t":11,"T2":13.3,"T5":6.7,"E2":9.5},
      {"t":12,"T5":16,"E1":3.3,"E4":10},
      {"t":13,"T1":7.6,"T5":11,"E1":0.6,"E4":10},
      {"t":14,"T1":8.7,"T5":10,"E4":10.5},
      {"t":15,"T5":15,"E1":4.3,"E4":10},
      {"t":16,"T5":15,"E1":4.3,"E4":10},
      {"t":17,"T1":8.3,"T5":10.7,"E4":10.3},
      {"t":18,"T1":5,"T5":5.7,"E1":0.8,"E4":17.3},
      {"t":19,"T1":5,"T5":5,"E1":0.5,"E4":18},
      {"t":20,"E1":10,"E2":8.5,"E4":10},
      {"t":21,"E1":10,"E2":8.5,"E4":10},
      {"t":22,"T5":13.5,"E1":5.5,"E4":10},
      {"t":23,"T5":13.5,"E1":6,"E4":10},
      {"t":24,"T5":13.5,"E1":6,"E4":10},
      {"t":25,"T5":13.5,"E1":6.2,"E4":10},
      {"t":26,"T2":11,"E1":0.5,"E4":17.5},
      {"t":27,"T1":5,"T5":4.2,"E2":10,"E4":9.6},
      {"t":28,"T1":5,"T2":6,"E2":8.2,"E4":9.8},
      {"t":29,"T2":12.8,"E2":6.5,"E4":10},
      {"t":30,"T1":5,"T5":5,"E2":10.5,"E4":9.3},
      {"t":31,"T1":8.5,"T2":2,"E2":10,"E4":9.5},
      {"t":32,"T1":9,"T2":1.3,"E2":10,"E4":9.7},
      {"t":33,"T1":5,"T5":5,"E2":10,"E4":10},
      {"t":34,"T1":8,"T5":2,"E2":10,"E4":10},
      {"t":35,"T1":8,"T5":2,"E2":10,"E4":10},
      {"t":36,"T1":7.8,"T5":1.9,"E2":19.6},
      {"t":37,"T1":7.5,"T5":2,"E2":19.8},
      {"t":38,"T1":7.3,"T5":2,"E2":20},
      {"t":39,"T1":8,"T5":2,"E2":11,"E3":9},
      {"t":40,"T1":8.5,"T5":2,"E4":20},
      {"t":41,"T2":1.5,"W1":11,"E3":10,"E4":10},
      {"t":42,"T2":1.5,"T4":1,"T5":11.5,"E1":11,"E2":9.8},
      {"t":43,"T1":15,"E1":10,"E2":10.5},
      {"t":44,"T1":10.5,"T3":12,"T4":3,"W1":10},
      {"t":45,"T2":0.5,"T5":25,"E2":10.5},
      {"t":46,"T2":0.5,"T4":13,"T5":12,"E2":10},
      {"t":47,"T2":0.5,"T3":14.7,"T5":10.5,"E2":10.3},
      {"t":48,"T2":0.5,"T4":15.5,"W1":10,"E2":10},
      {"t":49,"T2":2.7,"T4":21.3,"W1":10,"W2":5.7},
      {"t":50,"T1":9.3,"T3":4.7,"T4":15.5,"PV":10},
      {"t":51,"T2":8.9,"T3":20,"T4":2,"W1":10.7},
      {"t":52,"T4":5,"T7":12,"W1":10,"PV":14.6},
      {"t":53,"T4":13,"T7":19.5,"W1":9},
      {"t":54,"T1":12,"T5":13,"PV":11,"W2":6.6},
      {"t":55,"T4":3,"T5":22.5,"PV":11,"W2":5.5},
      {"t":56,"T2":3.2,"T4":9,"T7":14.8,"E1":4,"E4":10},
      {"t":57,"T2":0.5,"T3":3,"T5":9.5,"T7":11,"PV":6,"E4":10.8},
      {"t":58,"T5":21,"PV":8,"E4":11.3},
      {"t":59,"T3":10.5,"T5":13,"T7":5,"E1":3,"E4":9},
      {"t":60,"T5":27.5,"T7":13},
      {"t":61,"T2":1,"T4":15,"T5":10.5,"T7":12.8},
      {"t":62,"T1":19.5,"T3":2.5,"T7":17},
      {"t":63,"T3":10,"T5":2,"PV":10.8,"E1":16},
      {"t":64,"T4":12.4,"T7":25},
      {"t":65,"T5":25.8,"E1":11.7},
      {"t":66,"T4":16,"T5":8,"W1":3,"W2":8},
      {"t":67,"T4":16.5,"E4":18.7},
      {"t":68,"T1":20,"T2":1.5,"T7":12.5},
      {"t":69,"T4":14,"T7":19.8},
      {"t":70,"T2":1.3,"T4":13.7,"T7":10,"E1":8.4},
      {"t":71,"T2":2,"T4":6,"T7":17,"E1":8.5},
      {"t":72,"T1":20,"T4":4,"E1":9.4},
      {"t":73,"T1":7.5,"T2":0.5,"T6":1,"T7":16,"E1":9.4},
      {"t":74,"T2":3,"T4":3,"T6":17,"E1":10},
      {"t":75,"T4":9,"T6":5,"W1":9,"W2":10.2},
      {"t":76,"T2":5,"T4":10,"T5":5,"W1":5,"W2":9},
      {"t":77,"T2":0.5,"T7":33.5},
      {"t":78,"T4":18,"T7":6,"W2":9.7},
      {"t":79,"T5":18,"T6":6,"W1":4,"W2":6.2},
      {"t":80,"T7":29.5,"W1":5},
      {"t":81,"T4":20,"T6":6,"W1":5,"W2":3.9},
      {"t":82,"T2":8.3,"T4":11,"T6":3,"T7":4,"W1":4,"W2":4.2},
      {"t":83,"T4":14,"T5":1,"T6":4,"T7":4,"W1":5,"W2":5.9},
      {"t":84,"T4":21,"T5":2.5,"W1":6,"W2":5.1},
      {"t":85,"T4":25,"T5":1,"PV":7.1},
      {"t":86,"T4":19.5,"T5":4,"PV":8.4},
      {"t":87,"T4":25,"PV":6.3},
      {"t":88,"T1":20,"T3":2,"T5":3,"E1":7.2},
      {"t":89,"T4":22.4,"E1":9.7},
      {"t":90,"T1":5,"T2":0.5,"T4":25.4},
      {"t":91,"T4":20,"T5":10.4},
      {"t":92,"T4":14,"T5":6,"PV":10.1},
      {"t":93,"T1":8.5,"T4":10,"T5":4,"PV":7.2},
      {"t":94,"T1":6,"T4":14.5,"T5":2,"E1":6.5},
      {"t":95,"T1":9,"T4":9.5,"T5":3,"E1":7.3}
    ],
    "E": [
      {"t":0,"T2":29.2},
      {"t":1,"T2":8.7,"T4":5.8,"T5":4.9,"E3":10},
      {"t":2,"T2":4.8,"T4":4.3,"E2":20.3},
      {"t":3,"T2":9.2,"E2":20},
      {"t":4,"T1":5.7,"T2":2,"T4":1,"E3":19.9},
      {"t":5,"T1":7.6,"T2":14.4,"T5":6.5},
      {"t":6,"T1":5.7,"T2":1.7,"T4":1.6,"E3":20},
      {"t":7,"T1":6,"T2":1.5,"T4":1.5,"E3":20.3},
      {"t":8,"T1":6.5,"T2":1.5,"T4":1,"E3":20.2},
      {"t":9,"T1":7,"T2":1.5,"T4":0.8,"E3":20},
      {"t":10,"T1":7,"T2":1.5,"T4":0.5,"E3":20.1},
      {"t":11,"T1":6.9,"E3":22.2},
      {"t":12,"T2":28.1},
      {"t":13,"T1":2.9,"T2":25},
      {"t":14,"T1":2.8,"T2":25},
      {"t":15,"T1":6.8,"T2":21.2},
      {"t":16,"T1":7,"T2":21},
      {"t":17,"T1":3,"T2":25},
      {"t":18,"T2":28},
      {"t":19,"T2":25,"T5":2.8},
      {"t":20,"T2":23,"T5":4.6},
      {"t":21,"T2":17,"T5":10.4},
      {"t":22,"T2":17,"T5":10.4},
      {"t":23,"T1":8.8,"T2":19},
      {"t":24,"T1":7.3,"T2":20.8},
      {"t":25,"T1":6.2,"T2":22.1},
      {"t":26,"T1":5.6,"T2":22.9},
      {"t":27,"T2":2.7,"T5":25},
      {"t":28,"T2":7.6,"E4":20},
      {"t":29,"T1":7.8,"E4":20},
      {"t":30,"T1":8.2,"E4":20},
      {"t":31,"T2":10.3,"T4":3.4,"E4":15},
      {"t":32,"T2":12.3,"T5":7.1,"E4":10},
      {"t":33,"T2":8.3,"T4":4,"T5":7,"E4":10},
      {"t":34,"T2":12,"T4":7,"E4":10},
      {"t":35,"T2":12.3,"T4":6.7,"E4":10},
      {"t":36,"T2":11.2,"T4":7.7,"E4":10},
      {"t":37,"T1":3.2,"T2":5.1,"T4":10,"E4":10},
      {"t":38,"T2":12,"T4":6.4,"E4":10.1},
      {"t":39,"T2":7.8,"T4":11.2,"E4":10},
      {"t":40,"T2":5.2,"T4":14,"E4":10.5},
      {"t":41,"T4":26.7,"T5":4.8},
      {"t":42,"T4":2,"T5":11,"E1":10,"E2":10},
      {"t":43,"T2":2.4,"T4":19.3,"T5":2,"E3":10.5},
      {"t":44,"T4":2,"T5":13.2,"W1":10,"E3":9.5},
      {"t":45,"T3":13.7,"W1":11,"E3":9.7},
      {"t":46,"T3":13.3,"W1":11.2,"E3":10},
      {"t":47,"T3":2.3,"T4":13.3,"T5":9.4,"E3":9.8},
      {"t":48,"T1":16.5,"T3":13.5,"T4":3,"T5":1.9},
      {"t":49,"T1":13,"T4":12.5,"T5":2.7,"E3":10},
      {"t":50,"T4":9.3,"T5":13.2,"E2":15.5},
      {"t":51,"T4":20,"T5":19.4},
      {"t":52,"T3":21.3,"T7":8.7,"E2":10},
      {"t":53,"T1":6,"T2":3.4,"T3":12,"T7":8.6,"E1":9.7},
      {"t":54,"T3":11,"T4":24,"W2":6},
      {"t":55,"T3":12,"T4":12.9,"T7":5,"E1":10.6},
      {"t":56,"T1":5,"T3":6,"T4":13,"T7":9.6,"W2":6},
      {"t":57,"T3":5.6,"T4":23.6,"T7":3,"E1":7.2},
      {"t":58,"T3":24.5,"T7":8.5,"E1":6.6},
      {"t":59,"T1":11.8,"T4":9,"T7":13,"E1":5.2},
      {"t":60,"T1":6.8,"T3":4,"T7":8,"E1":20.3},
      {"t":61,"T1":5,"T4":6.8,"T7":10,"E2":16.4},
      {"t":62,"T4":18,"W2":4.7,"E2":15.1},
      {"t":63,"T5":27.5,"E2":10},
      {"t":64,"T2":5.6,"T4":12.4,"W2":5,"E2":14.5},
      {"t":65,"T4":14,"T7":21,"E2":2.5},
      {"t":66,"T5":15.8,"E1":20.7},
      {"t":67,"T5":13.7,"T7":11.8,"E2":10.3},
      {"t":68,"T5":12.2,"T7":13.3,"E2":9.7},
      {"t":69,"T4":7.8,"T7":16.6,"E2":10.4},
      {"t":70,"T5":13.4,"T7":10.5,"E2":10.3},
      {"t":71,"T4":4.3,"T7":18.7,"E2":10.5},
      {"t":72,"T4":5.8,"T7":17.2,"E2":10},
      {"t":73,"T2":4.2,"T5":4,"T7":14.8,"E2":10},
      {"t":74,"T7":23.7,"E1":10.2},
      {"t":75,"T5":3.4,"T7":19.6,"E2":10},
      {"t":76,"T5":3.4,"T7":19.6,"E2":10.7},
      {"t":77,"T6":8.6,"T7":10.1,"E2":15.1},
      {"t":78,"T7":23.3,"E2":10.5},
      {"t":79,"T2":10,"T6":13.5,"T7":2,"E1":8.4},
      {"t":80,"T2":10,"T6":17.6,"E1":6.4},
      {"t":81,"T1":20,"T2":4,"T5":1.5,"E2":9.1},
      {"t":82,"T2":8.4,"T7":5.6,"E4":19.8},
      {"t":83,"T7":22.9,"E2":10.5},
      {"t":84,"T2":2,"T7":12,"E4":20},
      {"t":85,"T7":21.4,"E2":10.9},
      {"t":86,"T5":14.6,"E2":16.7},
      {"t":87,"T4":2,"T5":8.5,"E2":20.5},
      {"t":88,"T2":1.5,"T4":20,"E2":9.9},
      {"t":89,"T4":10,"T5":11.4,"E2":9.9},
      {"t":90,"T2":9.9,"E2":20.4},
      {"t":91,"T2":9.6,"T5":9.7,"E3":10.3},
      {"t":92,"T5":9.2,"E2":10,"E3":9.9},
      {"t":93,"T5":8.5,"W1":9.7,"E3":10.4},
      {"t":94,"T5":8.2,"W1":10,"E3":9.9},
      {"t":95,"T5":7.8,"E3":20}
    ]
  },
  "spacing": 33,
  "resolve": {"scale": {"x": "independent", "y": "independent", "color": "independent"}, "legend": {"color": "independent"}},
  "vconcat": [
    {
      "bounds": "flush",
      "align": "none",
      "spacing": 0,
      "resolve": {"scale": {"x": "independent", "y": "independent", "color": "independent"}, "legend": {"color": "independent"}},
      "hconcat": [
        {"width": 287, "height": 10, "data": {"values": []}, "mark": "point", "view": {"stroke": null}},
        {
          "width": 421, "height": 268,
          "data": {"name": "A"},
          "transform": [
            {"fold": ["T1","T2","T3","T4","T5","T6","T7","T8","T9","T10","W1","W2","PV","E1","E2","E3","E4"], "as": ["s","v"]},
            {"filter": "datum.v > 0"},
            {"lookup": "s", "from": {"data": {"name": "series"}, "key": "s", "fields": ["k"]}}
          ],
          "title": {"text": "A", "dx": -73, "dy": 31},
          "resolve": {"axis": {"x": "independent", "y": "independent"}},
          "layer": [
            {
              "mark": {"type": "bar", "orient": "vertical", "size": 3.4},
              "encoding": {
                "x": {"field": "t", "type": "quantitative", "scale": {"domain": [-0.7, 96.3], "nice": false, "zero": false}, "axis": {"values": [0,10,20,30,40,50,60,70,80,90], "title": "Time(15min)", "labelFontSize": 13.5, "labelPadding": 12, "titleFontSize": 15.5, "titleX": 219, "titleY": 27}},
                "y": {"field": "v", "type": "quantitative", "stack": "zero", "scale": {"domain": [0, 700], "nice": false}, "axis": {"values": [0,100,200,300,400,500,600,700], "title": "Capcity of electricity energy market(MW)", "labelFontSize": 13.5, "labelPadding": 6, "titleFontSize": 15.5, "titleX": -29}},
                "color": {"field": "s", "type": "nominal", "scale": {"domain": ["T1","T2","T3","T4","T5","T6","T7","T8","T9","T10","W1","W2","PV","E1","E2","E3","E4"], "range": ["#e8123c","#f5804e","#ffd200","#80f400","#4dba12","#6b5bd2","#a20bd2","#1d4e9e","#f2829a","#f76570","#16a89b","#4cc3f2","#0f7f7f","#47388c","#26ded2","#9ad0e2","#d9f9f9"]}, "legend": {"title": null, "orient": "none", "legendX": 6, "legendY": 5}},
                "order": {"field": "k", "type": "quantitative"}
              }
            },
            {
              "mark": {"type": "point", "opacity": 0},
              "encoding": {
                "x": {"field": "t", "type": "quantitative", "scale": {"domain": [-0.7, 96.3], "nice": false, "zero": false}, "axis": {"orient": "top", "values": [0,10,20,30,40,50,60,70,80,90], "labels": false, "title": null, "domain": false}},
                "y": {"field": "v", "type": "quantitative", "scale": {"domain": [0, 700], "nice": false}, "axis": {"orient": "right", "values": [0,100,200,300,400,500,600,700], "labels": false, "title": null, "domain": false}}
              }
            }
          ]
        }
      ]
    },
    {
      "spacing": 49,
      "resolve": {"scale": {"x": "independent", "y": "independent", "color": "independent"}, "legend": {"color": "independent"}},
      "vconcat": [
        {
          "bounds": "flush",
          "align": "none",
          "spacing": 144,
          "resolve": {"scale": {"x": "independent", "y": "independent", "color": "independent"}, "legend": {"color": "independent"}},
          "hconcat": [
            {
              "width": 425, "height": 275,
              "data": {"name": "B"},
              "transform": [
                {"fold": ["T1","T2","T3","T4","T5","T6","T7","T8","T9","T10","W1","W2","PV","E1","E2","E3","E4"], "as": ["s","v"]},
                {"filter": "datum.v > 0"},
                {"lookup": "s", "from": {"data": {"name": "series"}, "key": "s", "fields": ["k"]}}
              ],
              "title": {"text": "B", "dx": -65, "dy": 19},
              "resolve": {"axis": {"x": "independent", "y": "independent"}},
              "layer": [
                {
                  "mark": {"type": "bar", "orient": "vertical", "size": 3.4},
                  "encoding": {
                    "x": {"field": "t", "type": "quantitative", "scale": {"domain": [-0.7, 96.3], "nice": false, "zero": false}, "axis": {"values": [0,10,20,30,40,50,60,70,80,90], "title": "Time(15min)", "labelFontSize": 14.5, "labelPadding": 7, "titleFontSize": 18, "titleX": 221, "titleY": 19}},
                    "y": {"field": "v", "type": "quantitative", "stack": "zero", "scale": {"domain": [0, 90], "nice": false}, "axis": {"values": [0,10,20,30,40,50,60,70,80,90], "title": "Upper capcity of primary FM market(MW)", "labelFontSize": 14.5, "labelPadding": 10, "titleFontSize": 18, "titleX": -34}},
                    "color": {"field": "s", "type": "nominal", "scale": {"domain": ["T1","T2","T3","T4","T5","T6","T7","T8","T9","T10","W1","W2","PV","E1","E2","E3","E4"], "range": ["#e8123c","#f5804e","#ffd200","#80f400","#4dba12","#6b5bd2","#a20bd2","#1d4e9e","#f2829a","#f76570","#16a89b","#4cc3f2","#0f7f7f","#47388c","#26ded2","#9ad0e2","#d9f9f9"]}, "legend": {"title": null, "orient": "none", "legendX": 11, "legendY": 7}},
                    "order": {"field": "k", "type": "quantitative"}
                  }
                },
                {
                  "mark": {"type": "point", "opacity": 0},
                  "encoding": {
                    "x": {"field": "t", "type": "quantitative", "scale": {"domain": [-0.7, 96.3], "nice": false, "zero": false}, "axis": {"orient": "top", "values": [0,10,20,30,40,50,60,70,80,90], "labels": false, "title": null, "domain": false}},
                    "y": {"field": "v", "type": "quantitative", "scale": {"domain": [0, 90], "nice": false}, "axis": {"orient": "right", "values": [0,10,20,30,40,50,60,70,80,90], "labels": false, "title": null, "domain": false}}
                  }
                }
              ]
            },
            {
              "width": 422, "height": 277,
              "data": {"name": "C"},
              "transform": [
                {"fold": ["T1","T2","T3","T4","T5","T6","T7","T8","T9","T10","W1","W2","PV","E1","E2","E3","E4"], "as": ["s","v"]},
                {"filter": "datum.v > 0"},
                {"lookup": "s", "from": {"data": {"name": "series"}, "key": "s", "fields": ["k"]}}
              ],
              "title": {"text": "C", "dx": -71, "dy": 18},
              "resolve": {"axis": {"x": "independent", "y": "independent"}},
              "layer": [
                {
                  "mark": {"type": "bar", "orient": "vertical", "size": 3.4},
                  "encoding": {
                    "x": {"field": "t", "type": "quantitative", "scale": {"domain": [-0.7, 96.3], "nice": false, "zero": false}, "axis": {"values": [0,10,20,30,40,50,60,70,80,90], "title": "Time(15min)", "labelFontSize": 14.5, "labelPadding": 7, "titleFontSize": 18, "titleX": 220, "titleY": 19}},
                    "y": {"field": "v", "type": "quantitative", "stack": "zero", "scale": {"domain": [0, 90], "nice": false}, "axis": {"values": [0,10,20,30,40,50,60,70,80,90], "title": "Lower capcity of primary FM market(MW)", "labelFontSize": 14.5, "labelPadding": 8, "titleFontSize": 18, "titleX": -23}},
                    "color": {"field": "s", "type": "nominal", "scale": {"domain": ["T1","T2","T3","T4","T5","T6","T7","T8","T9","T10","W1","W2","PV","E1","E2","E3","E4"], "range": ["#e8123c","#f5804e","#ffd200","#80f400","#4dba12","#6b5bd2","#a20bd2","#1d4e9e","#f2829a","#f76570","#16a89b","#4cc3f2","#0f7f7f","#47388c","#26ded2","#9ad0e2","#d9f9f9"]}, "legend": {"title": null, "orient": "none", "legendX": 270, "legendY": 6}},
                    "order": {"field": "k", "type": "quantitative"}
                  }
                },
                {
                  "mark": {"type": "point", "opacity": 0},
                  "encoding": {
                    "x": {"field": "t", "type": "quantitative", "scale": {"domain": [-0.7, 96.3], "nice": false, "zero": false}, "axis": {"orient": "top", "values": [0,10,20,30,40,50,60,70,80,90], "labels": false, "title": null, "domain": false}},
                    "y": {"field": "v", "type": "quantitative", "scale": {"domain": [0, 90], "nice": false}, "axis": {"orient": "right", "values": [0,10,20,30,40,50,60,70,80,90], "labels": false, "title": null, "domain": false}}
                  }
                }
              ]
            }
          ]
        },
        {
          "bounds": "flush",
          "align": "none",
          "spacing": 0,
          "resolve": {"scale": {"x": "independent", "y": "independent", "color": "independent"}, "legend": {"color": "independent"}},
          "hconcat": [
            {"width": 4, "height": 10, "data": {"values": []}, "mark": "point", "view": {"stroke": null}},
            {
              "width": 421, "height": 275,
              "data": {"name": "D"},
              "transform": [
                {"fold": ["T1","T2","T3","T4","T5","T6","T7","T8","T9","T10","W1","W2","PV","E1","E2","E3","E4"], "as": ["s","v"]},
                {"filter": "datum.v > 0"},
                {"lookup": "s", "from": {"data": {"name": "series"}, "key": "s", "fields": ["k"]}}
              ],
              "title": {"text": "D", "dx": -69, "dy": 28},
              "resolve": {"axis": {"x": "independent", "y": "independent"}},
              "layer": [
                {
                  "mark": {"type": "bar", "orient": "vertical", "size": 3.4},
                  "encoding": {
                    "x": {"field": "t", "type": "quantitative", "scale": {"domain": [-0.5, 96.4], "nice": false, "zero": false}, "axis": {"values": [0,10,20,30,40,50,60,70,80,90], "title": "Time(15min)", "labelFontSize": 14.5, "labelPadding": 7, "titleFontSize": 18, "titleX": 219, "titleY": 18}},
                    "y": {"field": "v", "type": "quantitative", "stack": "zero", "scale": {"domain": [0, 45], "nice": false}, "axis": {"values": [0,5,10,15,20,25,30,35,40,45], "title": "Upper capcity of secondary FM market(MW)", "labelFontSize": 14.5, "labelPadding": 9, "titleFontSize": 18, "titleX": -28}},
                    "color": {"field": "s", "type": "nominal", "scale": {"domain": ["T1","T2","T3","T4","T5","T6","T7","T8","T9","T10","W1","W2","PV","E1","E2","E3","E4"], "range": ["#e8123c","#f5804e","#ffd200","#80f400","#4dba12","#6b5bd2","#a20bd2","#1d4e9e","#f2829a","#f76570","#16a89b","#4cc3f2","#0f7f7f","#47388c","#26ded2","#9ad0e2","#d9f9f9"]}, "legend": {"title": null, "orient": "none", "legendX": 6, "legendY": 6}},
                    "order": {"field": "k", "type": "quantitative"}
                  }
                },
                {
                  "mark": {"type": "point", "opacity": 0},
                  "encoding": {
                    "x": {"field": "t", "type": "quantitative", "scale": {"domain": [-0.5, 96.4], "nice": false, "zero": false}, "axis": {"orient": "top", "values": [0,10,20,30,40,50,60,70,80,90], "labels": false, "title": null, "domain": false}},
                    "y": {"field": "v", "type": "quantitative", "scale": {"domain": [0, 45], "nice": false}, "axis": {"orient": "right", "values": [0,5,10,15,20,25,30,35,40,45], "labels": false, "title": null, "domain": false}}
                  }
                }
              ]
            },
            {"width": 144, "height": 10, "data": {"values": []}, "mark": "point", "view": {"stroke": null}},
            {
              "width": 422, "height": 277,
              "data": {"name": "E"},
              "transform": [
                {"fold": ["T1","T2","T3","T4","T5","T6","T7","T8","T9","T10","W1","W2","PV","E1","E2","E3","E4"], "as": ["s","v"]},
                {"filter": "datum.v > 0"},
                {"lookup": "s", "from": {"data": {"name": "series"}, "key": "s", "fields": ["k"]}}
              ],
              "title": {"text": "E", "dx": -75, "dy": 31},
              "resolve": {"axis": {"x": "independent", "y": "independent"}},
              "layer": [
                {
                  "mark": {"type": "bar", "orient": "vertical", "size": 3.4},
                  "encoding": {
                    "x": {"field": "t", "type": "quantitative", "scale": {"domain": [-0.7, 96.3], "nice": false, "zero": false}, "axis": {"values": [0,10,20,30,40,50,60,70,80,90], "title": "Time/15min", "labelFontSize": 14.5, "labelPadding": 7, "titleFontSize": 18, "titleX": 220, "titleY": 18}},
                    "y": {"field": "v", "type": "quantitative", "stack": "zero", "scale": {"domain": [0, 45], "nice": false}, "axis": {"values": [0,5,10,15,20,25,30,35,40,45], "title": "Lower capcity of secondary FM market(MW)", "labelFontSize": 14.5, "labelPadding": 6, "titleFontSize": 18, "titleX": -26}},
                    "color": {"field": "s", "type": "nominal", "scale": {"domain": ["T1","T2","T3","T4","T5","T6","T7","T8","T9","T10","W1","W2","PV","E1","E2","E3","E4"], "range": ["#e8123c","#f5804e","#ffd200","#80f400","#4dba12","#6b5bd2","#a20bd2","#1d4e9e","#f2829a","#f76570","#16a89b","#4cc3f2","#0f7f7f","#47388c","#26ded2","#9ad0e2","#d9f9f9"]}, "legend": {"title": null, "orient": "none", "legendX": 7, "legendY": 6}},
                    "order": {"field": "k", "type": "quantitative"}
                  }
                },
                {
                  "mark": {"type": "point", "opacity": 0},
                  "encoding": {
                    "x": {"field": "t", "type": "quantitative", "scale": {"domain": [-0.7, 96.3], "nice": false, "zero": false}, "axis": {"orient": "top", "values": [0,10,20,30,40,50,60,70,80,90], "labels": false, "title": null, "domain": false}},
                    "y": {"field": "v", "type": "quantitative", "scale": {"domain": [0, 45], "nice": false}, "axis": {"orient": "right", "values": [0,5,10,15,20,25,30,35,40,45], "labels": false, "title": null, "domain": false}}
                  }
                }
              ]
            }
          ]
        }
      ]
    }
  ]
}
